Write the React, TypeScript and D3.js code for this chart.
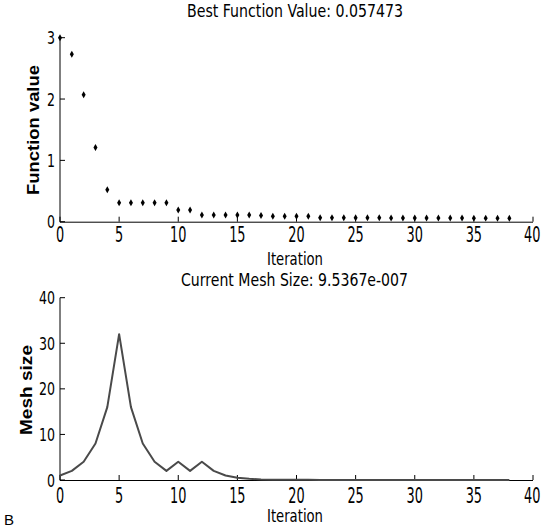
import React, { useEffect, useRef } from "react";
import * as d3 from "d3";

const iterations = Array.from({ length: 39 }, (_, i) => i);
const bestValues = [
  3.0, 2.73, 2.07, 1.21, 0.52, 0.31, 0.31, 0.31, 0.31, 0.31,
  0.19, 0.19, 0.11, 0.11, 0.11, 0.11, 0.11, 0.1, 0.09, 0.09,
  0.09, 0.09, 0.065, 0.065, 0.065, 0.064, 0.063, 0.063, 0.062, 0.061,
  0.061, 0.06, 0.06, 0.059, 0.059, 0.058, 0.058, 0.0575, 0.057473,
];
const meshSizes = [
  1, 2, 4, 8, 16, 32, 16, 8, 4, 2,
  4, 2, 4, 2, 1, 0.5, 0.25, 0.125, 0.0625, 0.0625,
  0.03125, 0.03125, 0.015625, 0.015625, 0.0078125, 0.00390625, 0.001953125, 0.001953125, 9.765625e-4, 4.8828125e-4,
  2.44140625e-4, 1.220703125e-4, 6.103515625e-5, 3.0517578125e-5, 1.52587890625e-5, 7.62939453125e-6, 3.814697265625e-6, 1.9073486328125e-6, 9.5367431640625e-7,
];
const xTicks = [0, 5, 10, 15, 20, 25, 30, 35, 40];
const topYTicks = [0, 1, 2, 3];
const bottomYTicks = [0, 10, 20, 30, 40];
const topTitle = "Best Function Value: 0.057473";
const bottomTitle = "Current Mesh Size: 9.5367e-007";

const NARROW = "'Liberation Sans Narrow', 'Arial Narrow', 'DejaVu Sans Condensed', sans-serif";
const REG = "'Liberation Sans', Arial, 'DejaVu Sans', sans-serif";

export default function App() {
  const ref = useRef<SVGSVGElement | null>(null);

  useEffect(() => {
    const svg = d3.select(ref.current);
    svg.selectAll("*").remove();

    const x = d3.scaleLinear().domain([0, 40]).range([60, 533]);
    const yTop = d3.scaleLinear().domain([0, 3]).range([221.7, 37.7]);
    const yBot = d3.scaleLinear().domain([0, 40]).range([480, 297.7]);

    const drawAxes = (
      y: d3.ScaleLinear<number, number>,
      yTicks: number[],
      xLabelBase: number
    ) => {
      const g = svg.append("g");
      const [y0, y1] = y.range();
      g.append("line")
        .attr("x1", x(0)).attr("x2", x(0)).attr("y1", y0 + 0.5).attr("y2", y1)
        .attr("stroke", "#000").attr("stroke-width", 1);
      g.append("line")
        .attr("x1", x(0)).attr("x2", x(40)).attr("y1", y0 + 0.5).attr("y2", y0 + 0.5)
        .attr("stroke", "#000").attr("stroke-width", 1);
      xTicks.forEach((t) => {
        g.append("line")
          .attr("x1", x(t)).attr("x2", x(t)).attr("y1", y0).attr("y2", y0 - 5)
          .attr("stroke", "#000").attr("stroke-width", 1);
        const s = String(t);
        const last = t === 40;
        g.append("text")
          .attr("x", last ? x(t) + 7.5 : x(t)).attr("y", xLabelBase)
          .attr("text-anchor", last ? "end" : "middle")
          .attr("font-family", NARROW).attr("font-size", 21)
          .attr("textLength", s.length * 8.2).attr("lengthAdjust", "spacingAndGlyphs")
          .text(s);
      });
      yTicks.forEach((t) => {
        g.append("line")
          .attr("x1", x(0)).attr("x2", x(0) + 5).attr("y1", y(t)).attr("y2", y(t))
          .attr("stroke", "#000").attr("stroke-width", 1);
        const s = String(t);
        g.append("text")
          .attr("x", 55).attr("y", y(t) + 6.5)
          .attr("text-anchor", "end")
          .attr("font-family", NARROW).attr("font-size", 18)
          .attr("textLength", s.length * 8).attr("lengthAdjust", "spacingAndGlyphs")
          .text(s);
      });
    };

    drawAxes(yTop, topYTicks, 242);
    drawAxes(yBot, bottomYTicks, 503);

    // top markers
    const sym = d3.symbol().type(d3.symbolDiamond).size(14);
    svg.append("g")
      .selectAll("path")
      .data(iterations)
      .join("path")
      .attr("transform", (i) => `translate(${x(i)},${yTop(bestValues[i])})`)
      .attr("d", sym() as string)
      .attr("fill", "#000");

    // bottom line
    const line = d3.line<number>().x((i) => x(i)).y((i) => yBot(meshSizes[i]));
    svg.append("path")
      .datum(iterations)
      .attr("d", line)
      .attr("fill", "none")
      .attr("stroke", "#4a4a4a")
      .attr("stroke-width", 2)
      .attr("stroke-linejoin", "round");

    const addText = (
      txt: string, xx: number, yy: number, size: number, len: number,
      family: string, weight = "normal", rotate = false
    ) => {
      const t = svg.append("text")
        .attr("text-anchor", "middle")
        .attr("font-family", family).attr("font-size", size)
        .attr("font-weight", weight)
        .attr("textLength", len).attr("lengthAdjust", "spacingAndGlyphs")
        .text(txt);
      if (rotate) t.attr("transform", `translate(${xx},${yy}) rotate(-90)`);
      else t.attr("x", xx).attr("y", yy);
    };

    addText(topTitle, 295, 17, 18, 216, NARROW);
    addText("Iteration", 295, 265, 17, 56, NARROW);
    addText(bottomTitle, 294.5, 286, 17, 227, NARROW);
    addText("Iteration", 295, 522, 17, 56, NARROW);
    addText("Function value", 39, 130, 16, 130, REG, "bold", true);
    addText("Mesh size", 32, 390, 16, 90, REG, "bold", true);

    svg.append("text")
      .attr("x", 4).attr("y", 525)
      .attr("font-family", REG).attr("font-size", 15)
      .text("B");
  }, []);

  return (
    <svg
      ref={ref}
      width={543}
      height={528}
      style={{ position: "absolute", left: 0, top: 0, background: "#fff" }}
    />
  );
}
